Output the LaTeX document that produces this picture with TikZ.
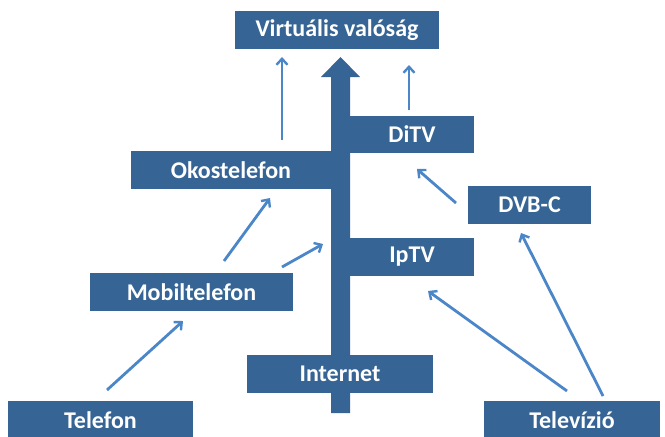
\documentclass[tikz,border=0pt]{standalone}
\usepackage{fontspec}
\setmainfont{Carlito}
\usetikzlibrary{arrows.meta}
\definecolor{boxblue}{HTML}{366595}
\definecolor{linkblue}{HTML}{4A86C8}
\tikzset{
  box/.style={fill=boxblue, text=white, font=\fontsize{24}{28}\selectfont\bfseries, inner sep=0pt, minimum height=38pt},
  link/.style={draw=linkblue, line width=2.8pt, -{Straight Barb[length=6pt,width=11pt,line width=2.4pt]}}
}
\begin{document}
\begin{tikzpicture}[x=1pt,y=-1pt]
\useasboundingbox (0,0) rectangle (665,437);
% trunk arrow
\fill[boxblue] (331,413) -- (331,77) -- (321,77) -- (340.5,57) -- (360,77) -- (350,77) -- (350,413) -- cycle;
% boxes
\node[box, minimum width=204pt] (vr) at (337,30) {Virtuális valóság};
\node[box, minimum width=124pt, minimum height=37pt] (ditv) at (412,134.5) {DiTV};
\node[box, minimum width=200pt] (oko) at (231,170) {Okostelefon};
\node[box, minimum width=123pt] (dvbc) at (529.5,205) {DVB-C};
\node[box, minimum width=124pt] (iptv) at (412,257) {IpTV};
\node[box, minimum width=203pt] (mobil) at (191.5,292) {Mobiltelefon};
\node[box, minimum width=186pt] (inet) at (340,374) {Internet};
\node[box, minimum width=185pt] (tel) at (100.5,420) {Telefon};
\node[box, minimum width=176pt] (tv) at (572,420) {Televízió};
% connector end points
\coordinate (oko-s) at (282,140);   \coordinate (vr-a) at (282,57);
\coordinate (ditv-s) at (409,110);  \coordinate (vr-b) at (409,65);
\coordinate (dvbc-s) at (456,203);  \coordinate (ditv-a) at (417,169);
\coordinate (tv-s1) at (603,396);   \coordinate (dvbc-a) at (521,233);
\coordinate (tv-s2) at (567,391);   \coordinate (iptv-a) at (428,291);
\coordinate (tel-s) at (107,390);   \coordinate (mobil-a) at (183,321);
\coordinate (mobil-s1) at (224,261); \coordinate (oko-a) at (270,198);
\coordinate (mobil-s2) at (282,267); \coordinate (trunk-a) at (323,244);
% connectors
\draw[link] (oko-s) -- (vr-a);
\draw[link] (ditv-s) -- (vr-b);
\draw[link] (dvbc-s) -- (ditv-a);
\draw[link] (tv-s1) -- (dvbc-a);
\draw[link] (tv-s2) -- (iptv-a);
\draw[link] (tel-s) -- (mobil-a);
\draw[link] (mobil-s1) -- (oko-a);
\draw[link] (mobil-s2) -- (trunk-a);
\end{tikzpicture}
\end{document}
